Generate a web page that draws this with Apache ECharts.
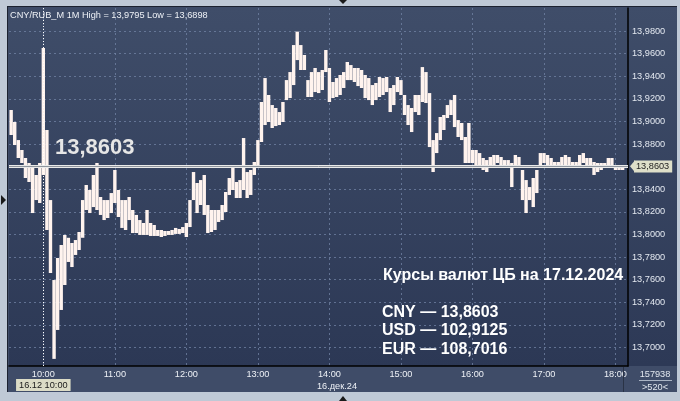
<!DOCTYPE html>
<html><head><meta charset="utf-8">
<script src="https://cdn.jsdelivr.net/npm/echarts@6/dist/echarts.min.js"></script>
<style>
html,body{margin:0;padding:0;background:#bfc9d6;overflow:hidden;}
#wrap{position:relative;width:680px;height:401px;}
#panel{position:absolute;left:7px;top:6px;width:670px;height:386px;background:#3f4c68;border-top:1px solid #1c2230;border-left:1px solid #1c2230;box-sizing:border-box;}
#rpanel{position:absolute;left:628px;top:7px;width:49px;height:359px;background:linear-gradient(#3f4d69,#2d3956);}
#c{position:absolute;left:0;top:0;width:680px;height:401px;}
</style>
</head><body><div id="wrap"><div id="panel"></div><div id="rpanel"></div><div id="c"></div></div>
<script>
// ---- data (1-minute CNY/RUB_M, read as 3-minute ranges) ----
const firstBarTime = '09:33';
const barStepMinutes = 3;
const highs = [
13.9101,13.8995,13.8835,13.8747,13.8676,13.8632,13.8614,13.8526,13.8632,13.9650,
13.8924,13.8304,13.7596,13.7791,13.7906,13.7995,13.7970,13.7924,13.7950,13.8021,
13.8304,13.8437,13.8393,13.8526,13.8632,13.8331,13.8304,13.8304,13.8366,13.8570,
13.8393,13.8304,13.8304,13.8331,13.8216,13.8172,13.8127,13.8101,13.8216,13.8101,
13.8083,13.8039,13.8039,13.8030,13.8030,13.8039,13.8057,13.8048,13.8065,13.8101,
13.8304,13.8552,13.8455,13.8481,13.8526,13.8260,13.8216,13.8216,13.8216,13.8260,
13.8375,13.8499,13.8588,13.8464,13.8481,13.8853,13.8552,13.8570,13.8641,13.8835,
13.9172,13.9384,13.9234,13.9145,13.9119,13.9083,13.9172,13.9366,13.9437,13.9676,
13.9795,13.9676,13.9588,13.9366,13.9437,13.9473,13.9437,13.9455,13.9632,13.9473,
13.9349,13.9384,13.9411,13.9437,13.9526,13.9499,13.9473,13.9473,13.9455,13.9411,
13.9384,13.9322,13.9340,13.9393,13.9384,13.9393,13.9296,13.9322,13.9393,13.9366,
13.9234,13.9145,13.9119,13.9234,13.9234,13.9481,13.9437,13.9251,13.8835,13.8897,
13.9039,13.9057,13.9145,13.9189,13.9234,13.9012,13.8986,13.8862,13.8986,13.8747,
13.8747,13.8720,13.8676,13.8658,13.8685,13.8703,13.8703,13.8685,13.8658,13.8658,
13.8632,13.8703,13.8685,13.8570,13.8481,13.8419,13.8499,13.8570,13.8720,13.8720,
13.8703,13.8676,13.8641,13.8641,13.8685,13.8703,13.8685,13.8641,13.8641,13.8703,
13.8720,13.8676,13.8676,13.8641,13.8632,13.8632,13.8632,13.8676,13.8676,13.8596,
13.8614,13.8614,13.8614
];
const lows = [
13.8880,13.8791,13.8676,13.8632,13.8499,13.8464,13.8189,13.8304,13.8278,13.8526,
13.8039,13.7658,13.6898,13.7154,13.7331,13.7552,13.7756,13.7711,13.7818,13.7862,
13.7970,13.8216,13.8189,13.8242,13.8216,13.8172,13.8127,13.8145,13.8189,13.8278,
13.8154,13.8057,13.8039,13.8127,13.8012,13.8012,13.7995,13.7995,13.7995,13.7986,
13.7986,13.7986,13.7977,13.7986,13.7995,13.7995,13.8004,13.8004,13.8012,13.7977,
13.8065,13.8304,13.8189,13.8260,13.8172,13.8012,13.8021,13.8039,13.8110,13.8127,
13.8198,13.8349,13.8393,13.8322,13.8322,13.8393,13.8322,13.8349,13.8526,13.8614,
13.8818,13.8968,13.8995,13.8942,13.8959,13.8968,13.8995,13.9189,13.9207,13.9322,
13.9543,13.9455,13.9455,13.9216,13.9216,13.9260,13.9251,13.9278,13.9437,13.9172,
13.9207,13.9216,13.9234,13.9296,13.9366,13.9366,13.9349,13.9313,13.9296,13.9207,
13.9189,13.9145,13.9189,13.9216,13.9234,13.9260,13.9083,13.9145,13.9260,13.9234,
13.9057,13.8968,13.8906,13.9083,13.9057,13.9172,13.9163,13.8773,13.8552,13.8720,
13.8835,13.8924,13.9030,13.9057,13.8950,13.8862,13.8835,13.8632,13.8632,13.8632,
13.8614,13.8596,13.8570,13.8552,13.8596,13.8614,13.8632,13.8614,13.8596,13.8596,
13.8419,13.8596,13.8596,13.8304,13.8189,13.8304,13.8242,13.8366,13.8596,13.8632,
13.8614,13.8596,13.8588,13.8588,13.8596,13.8614,13.8596,13.8588,13.8588,13.8614,
13.8632,13.8596,13.8596,13.8526,13.8552,13.8570,13.8588,13.8614,13.8614,13.8570,
13.8570,13.8570,13.8603
];
const xTickLabels = ['10:00','11:00','12:00','13:00','14:00','15:00','16:00','17:00','18:00'];
const yTickValues = [13.70,13.72,13.74,13.76,13.78,13.80,13.82,13.84,13.86,13.88,13.90,13.92,13.94,13.96,13.98];
const lastPrice = 13.8603;
const cursorTime = '10:00';
const headerText = 'CNY/RUB_M 1M High = 13,9795 Low = 13,6898';
const cbTitle = 'Курсы валют ЦБ на 17.12.2024';
const cbLines = ['CNY — 13,8603','USD — 102,9125','EUR — 108,7016'];
const dateLabel = '16.дек.24';
const cursorLabel = '16.12 10:00';
const volumeText = '157938';
const countText = '>520<';

// ---- helpers ----
const toMin = s => { const p = s.split(':'); return (+p[0]) * 60 + (+p[1]); };
const fromMin = m => String(Math.floor(m / 60)).padStart(2, '0') + ':' + String(Math.round(m % 60)).padStart(2, '0');
const fmtPrice = v => v.toFixed(4).replace('.', ',');
const FONT = '"Liberation Sans", Arial, sans-serif';
const SMALL = 9.2;

const t0 = toMin(firstBarTime);
const ranges = highs.map((h, i) => [t0 + i * barStepMinutes, lows[i], h]);

const chart = echarts.init(document.getElementById('c'), null, {renderer: 'canvas'});
const splitStyle = {color: 'rgba(115,132,165,0.75)', width: 1, type: [2, 3]};

chart.setOption({
  animation: false,
  backgroundColor: 'transparent',
  grid: {
    left: 9, right: 52, top: 8, bottom: 35, show: true, borderWidth: 0,
    backgroundColor: new echarts.graphic.LinearGradient(0, 0, 0, 1, [
      {offset: 0, color: '#3f4d69'}, {offset: 1, color: '#2c3855'}])
  },
  xAxis: {
    type: 'value', min: 571.2, max: 1090.5, position: 'bottom',
    axisLine: {show: true, onZero: false, lineStyle: {color: '#000', width: 1.5}},
    axisTick: {show: false, customValues: xTickLabels.map(toMin)},
    axisLabel: {customValues: xTickLabels.map(toMin), formatter: v => fromMin(v),
      color: '#eef1f6', fontSize: SMALL, fontFamily: FONT, margin: 4, showMinLabel: true, showMaxLabel: true},
    splitLine: {show: true, lineStyle: splitStyle}
  },
  yAxis: {
    type: 'value', min: 13.6835, max: 14.0004, position: 'right', scale: true,
    axisLine: {show: true, onZero: false, lineStyle: {color: '#000', width: 1.5}},
    axisTick: {show: false, customValues: yTickValues},
    axisLabel: {customValues: yTickValues, formatter: v => fmtPrice(v),
      color: '#e3e8f0', fontSize: SMALL, fontFamily: FONT, margin: 4},
    splitLine: {show: true, lineStyle: splitStyle}
  },
  series: [{
    type: 'custom',
    data: ranges,
    encode: {x: 0, y: [1, 2]},
    clip: true,
    renderItem: (params, api) => {
      const t = api.value(0);
      const lo = api.coord([t, api.value(1)]);
      const hi = api.coord([t, api.value(2)]);
      const w = api.size([barStepMinutes, 0])[0] * 0.95;
      return {type: 'rect',
        shape: {x: lo[0] - w / 2, y: hi[1], width: w, height: Math.max(lo[1] - hi[1], 1.5)},
        style: {fill: '#fff3ee'}};
    },
    markLine: {
      silent: true, symbol: ['none', 'none'], animation: false,
      data: [
        {xAxis: toMin(cursorTime), lineStyle: {color: '#ffffff', width: 1, type: [1, 2]}, label: {show: false}},
        {yAxis: lastPrice, lineStyle: {color: '#e9e9e9', width: 3, type: 'solid'}, label: {show: false}},
        {yAxis: lastPrice, lineStyle: {color: '#8f949c', width: 1, type: 'solid'},
          label: {show: true, position: 'end', distance: 6, formatter: fmtPrice(lastPrice),
            color: '#1d1d1d', fontSize: SMALL, fontFamily: FONT, backgroundColor: '#dedfc9',
            padding: [2, 3, 1, 2]}}
      ]
    }
  }]
});

const py = chart.convertToPixel({yAxisIndex: 0}, lastPrice);
const cx = chart.convertToPixel({xAxisIndex: 0}, toMin(cursorTime));
const txt = (x, y, text, o) => Object.assign({type: 'text', x, y, silent: true, z: 100,
  style: Object.assign({text, font: SMALL + 'px ' + FONT, fill: '#e8ecf2', align: 'left', verticalAlign: 'middle'}, o || {})});

chart.setOption({graphic: [
  txt(10, 15, headerText, {fill: '#eef1f6'}),
  txt(55, 148, fmtPrice(lastPrice), {font: 'bold 22px ' + FONT, fill: '#e6e6e6'}),
  txt(383, 276, cbTitle, {font: 'bold 16px ' + FONT, fill: '#ffffff'}),
  txt(382, 313, cbLines[0], {font: 'bold 16px ' + FONT, fill: '#ffffff'}),
  txt(382, 331, cbLines[1], {font: 'bold 16px ' + FONT, fill: '#ffffff'}),
  txt(382, 350, cbLines[2], {font: 'bold 16px ' + FONT, fill: '#ffffff'}),
  txt(cx, 385, cursorLabel, {align: 'center', fill: '#1a1a1a', backgroundColor: '#dcdcc6', padding: [2, 3, 1, 3]}),
  txt(337, 386, dateLabel, {align: 'center', fill: '#eef1f6'}),
  txt(655, 374, volumeText, {align: 'center', fill: '#e3e8ef'}),
  txt(655, 387, countText, {align: 'center', fill: '#e3e8ef'}),
  {type: 'line', silent: true, z: 100, shape: {x1: 639, y1: 380.5, x2: 672, y2: 380.5}, style: {stroke: '#aab4c4', lineWidth: 1}},
  {type: 'line', silent: true, z: 100, shape: {x1: 623.5, y1: 367, x2: 623.5, y2: 392}, style: {stroke: '#2a3346', lineWidth: 1}},
  {type: 'polygon', silent: true, z: 100, shape: {points: [[630, py], [635, py - 6], [635, py + 6]]}, style: {fill: '#dedfc9'}},
  {type: 'polygon', silent: true, z: 100, shape: {points: [[339, 0], [347, 0], [343, 4]]}, style: {fill: '#1a1a1a'}},
  {type: 'polygon', silent: true, z: 100, shape: {points: [[339, 401], [347, 401], [343, 396]]}, style: {fill: '#1a1a1a'}},
  {type: 'polygon', silent: true, z: 100, shape: {points: [[1, 195], [1, 205], [6, 200]]}, style: {fill: '#1a1a1a'}}
]});
</script>
</body></html>
